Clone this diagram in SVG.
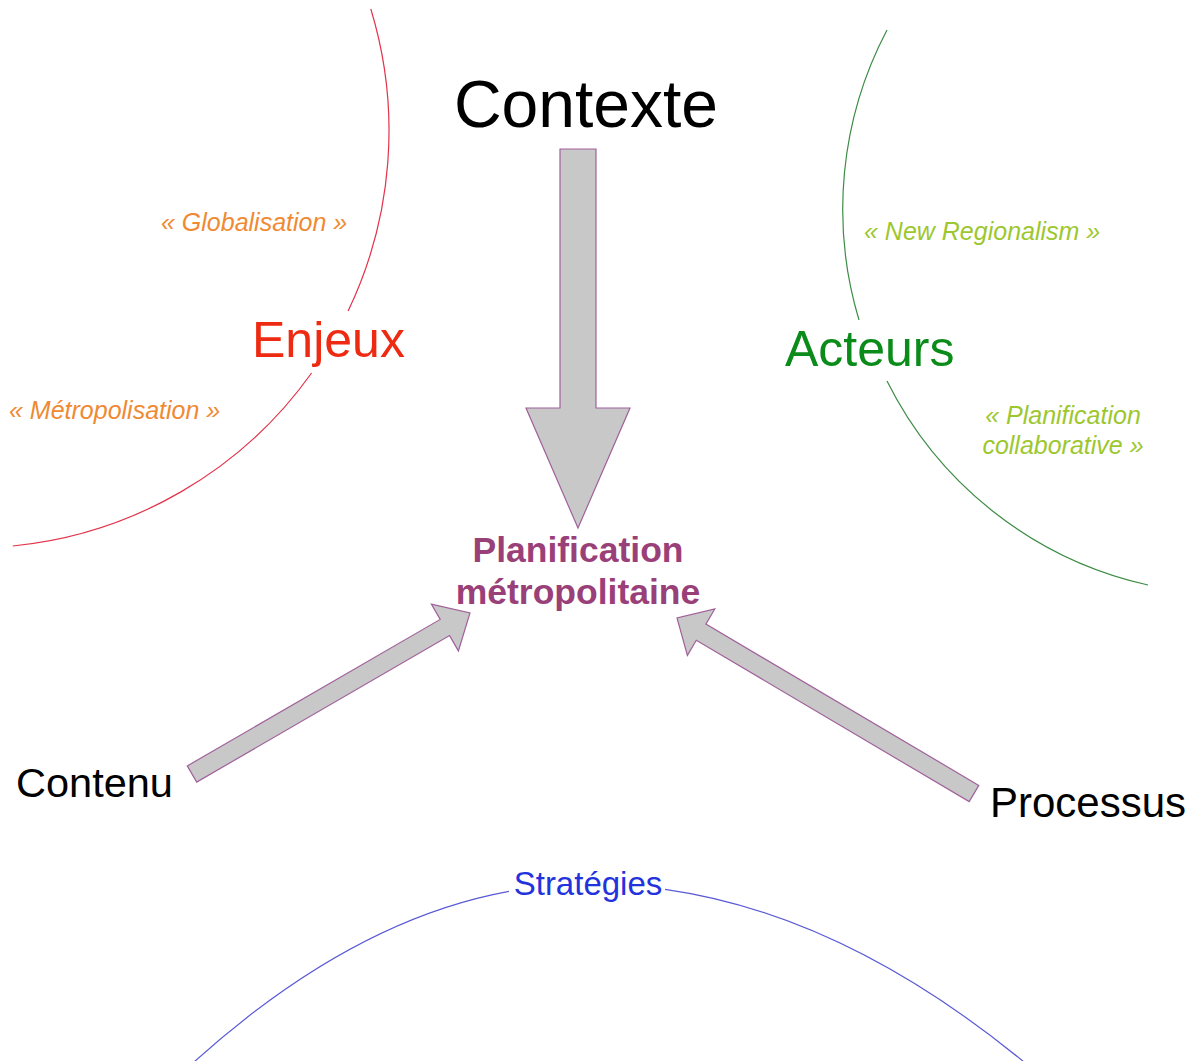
<svg xmlns="http://www.w3.org/2000/svg" width="1204" height="1061" viewBox="0 0 1204 1061">
<style>
text{font-family:"Liberation Sans",Arial,sans-serif}
.arrow{fill:#c8c8c8;stroke:#a0619b;stroke-width:1.2;stroke-linejoin:miter}
.curve{fill:none;stroke-width:1.2}
.quote{font-style:italic;font-size:25px}
.orange{fill:#ef8a32}
.lime{fill:#9dc72e}
.black{fill:#000;font-size:42px}
</style>
<rect x="0" y="0" width="1204" height="1061" fill="#fff"/>
<g id="curves">
<path class="curve" stroke="#e2334a" d="M370.8,9 A417,417 0 0 1 348.1,311"/>
<path class="curve" stroke="#e2334a" d="M311.6,373 A417,417 0 0 1 12.8,546"/>
<path class="curve" stroke="#3d8c45" d="M887,30 A385,385 0 0 0 859,320"/>
<path class="curve" stroke="#3d8c45" d="M887,381 A385,385 0 0 0 1148,585"/>
<path class="curve" stroke="#5a5ad6" d="M194,1062 Q351.5,920.2 509,891.4"/>
<path class="curve" stroke="#5a5ad6" d="M665,889.3 Q844.5,914.7 1024,1062"/>
</g>
<g id="connectors">
<polygon class="arrow" points="560,149 596,149 596,408 630,408 578,528 526,408 560,408"/>
<polygon class="arrow" points="187.3,765.9 440.2,619.4 431.4,604.1 470,613 458.4,650.9 449.6,635.6 196.7,782.1"/>
<polygon class="arrow" points="978.8,785.4 705.9,624.1 714.8,609 677,618 687.4,655.4 696.3,640.3 969.2,801.6"/>
</g>
<g id="contexte"><text x="586" y="127" font-size="66" text-anchor="middle" fill="#000">Contexte</text></g>
<g id="enjeux"><text x="252" y="357" font-size="50" fill="#ee2b12">Enjeux</text></g>
<g id="globalisation"><text class="quote orange" x="161" y="231">« Globalisation »</text></g>
<g id="metropolisation"><text class="quote orange" x="9" y="419">« Métropolisation »</text></g>
<g id="acteurs"><text x="785" y="366" font-size="50" fill="#0b8c1a">Acteurs</text></g>
<g id="new-regionalism"><text class="quote lime" x="864" y="240">« New Regionalism »</text></g>
<g id="planification-collaborative"><text class="quote lime" text-anchor="middle"><tspan x="1063" y="424">« Planification</tspan><tspan x="1063" y="454">collaborative »</tspan></text></g>
<g id="planification-metropolitaine"><text font-size="35.5" font-weight="bold" text-anchor="middle" fill="#9a4079"><tspan x="578" y="562">Planification</tspan><tspan x="578" y="604">métropolitaine</tspan></text></g>
<g id="contenu"><text class="black" x="16" y="797" style="font-size:41.5px">Contenu</text></g>
<g id="processus"><text class="black" x="990" y="817">Processus</text></g>
<g id="strategies"><text x="588" y="895" font-size="33" text-anchor="middle" fill="#2233dd">Stratégies</text></g>
</svg>
